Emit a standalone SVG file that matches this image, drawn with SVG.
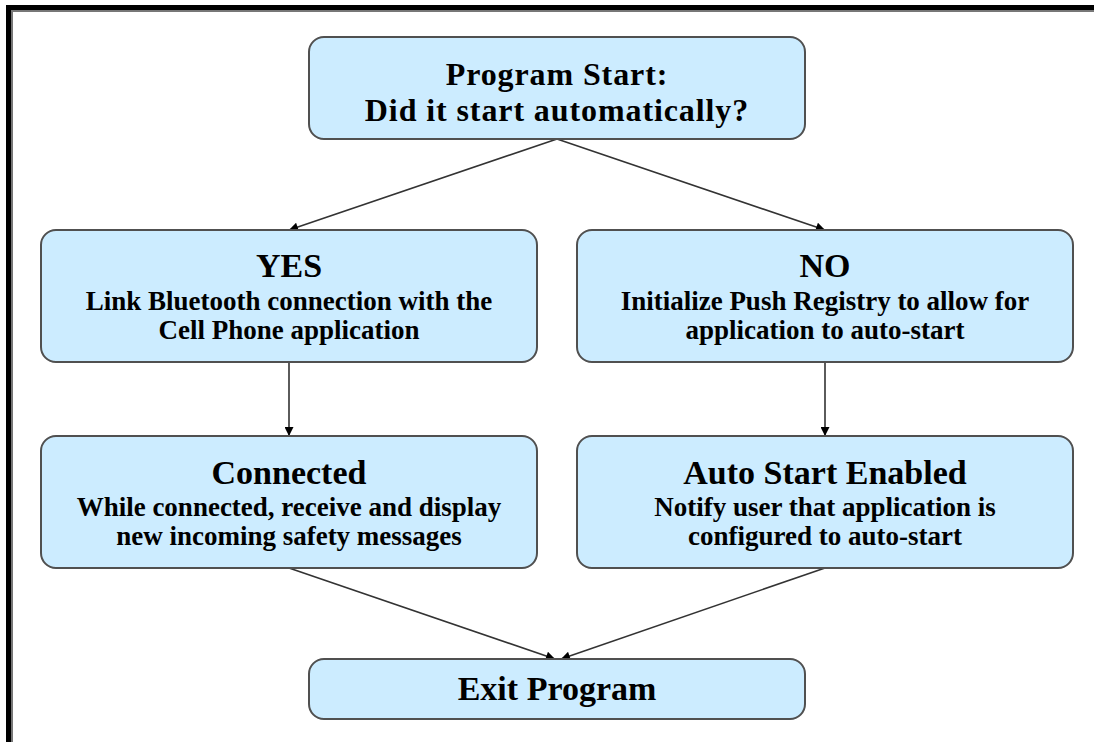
<svg xmlns="http://www.w3.org/2000/svg" width="1094" height="742" viewBox="0 0 1094 742">
  <defs>
    <marker id="arrow" viewBox="0 0 10 10" refX="10" refY="5" markerWidth="12" markerHeight="9" markerUnits="userSpaceOnUse" orient="auto">
      <path d="M0,0 L10,5 L0,10 Z" fill="#000"/>
    </marker>
  </defs>
  <style>
    .box { fill: #CCECFF; stroke: #505050; stroke-width: 2; }
    .title { font-family: "Liberation Serif", "Times New Roman", serif; font-weight: bold; font-size: 34px; fill: #000; text-anchor: middle; }
    .head { font-family: "Liberation Serif", "Times New Roman", serif; font-weight: bold; font-size: 32px; letter-spacing: 0.9px; fill: #000; text-anchor: middle; }
    .sub { font-family: "Liberation Serif", "Times New Roman", serif; font-weight: bold; font-size: 27px; fill: #000; text-anchor: middle; }
    .conn { stroke: #333; stroke-width: 1.6; fill: none; marker-end: url(#arrow); }
  </style>
  <rect width="1094" height="742" fill="#fff"/>
  <g id="frame">
    <rect x="6" y="5" width="1088" height="5" fill="#000"/>
    <rect x="6" y="5" width="5" height="737" fill="#000"/>
    <rect x="11" y="10" width="1083" height="2" fill="#777"/>
    <rect x="11" y="10" width="2" height="732" fill="#777"/>
  </g>
  <g id="connectors">
    <line class="conn" x1="557" y1="139" x2="289" y2="230"/>
    <line class="conn" x1="557" y1="139" x2="825" y2="230"/>
    <line class="conn" x1="289" y1="362" x2="289" y2="436"/>
    <line class="conn" x1="825" y1="362" x2="825" y2="436"/>
    <line class="conn" x1="289" y1="568" x2="555" y2="659"/>
    <line class="conn" x1="825" y1="568" x2="561" y2="659"/>
  </g>
  <g id="start">
    <rect class="box" x="309" y="37" width="496" height="102" rx="15"/>
    <text class="head" x="557" y="85">Program Start:</text>
    <text class="head" x="557" y="121">Did it start automatically?</text>
  </g>
  <g id="yes">
    <rect class="box" x="41" y="230" width="496" height="132" rx="15"/>
    <text class="title" x="289" y="277">YES</text>
    <text class="sub" x="289" y="310">Link Bluetooth connection with the<tspan x="289" dy="29">Cell Phone application</tspan></text>
  </g>
  <g id="no">
    <rect class="box" x="577" y="230" width="496" height="132" rx="15"/>
    <text class="title" x="825" y="277">NO</text>
    <text class="sub" x="825" y="310">Initialize Push Registry to allow for<tspan x="825" dy="29">application to auto-start</tspan></text>
  </g>
  <g id="connected">
    <rect class="box" x="41" y="436" width="496" height="132" rx="15"/>
    <text class="title" x="289" y="484">Connected</text>
    <text class="sub" x="289" y="516">While connected, receive and display<tspan x="289" dy="29">new incoming safety messages</tspan></text>
  </g>
  <g id="autostart">
    <rect class="box" x="577" y="436" width="496" height="132" rx="15"/>
    <text class="title" x="825" y="484">Auto Start Enabled</text>
    <text class="sub" x="825" y="516">Notify user that application is<tspan x="825" dy="29">configured to auto-start</tspan></text>
  </g>
  <g id="exit">
    <rect class="box" x="309" y="659" width="496" height="60" rx="15"/>
    <text class="title" x="557" y="700">Exit Program</text>
  </g>
</svg>
